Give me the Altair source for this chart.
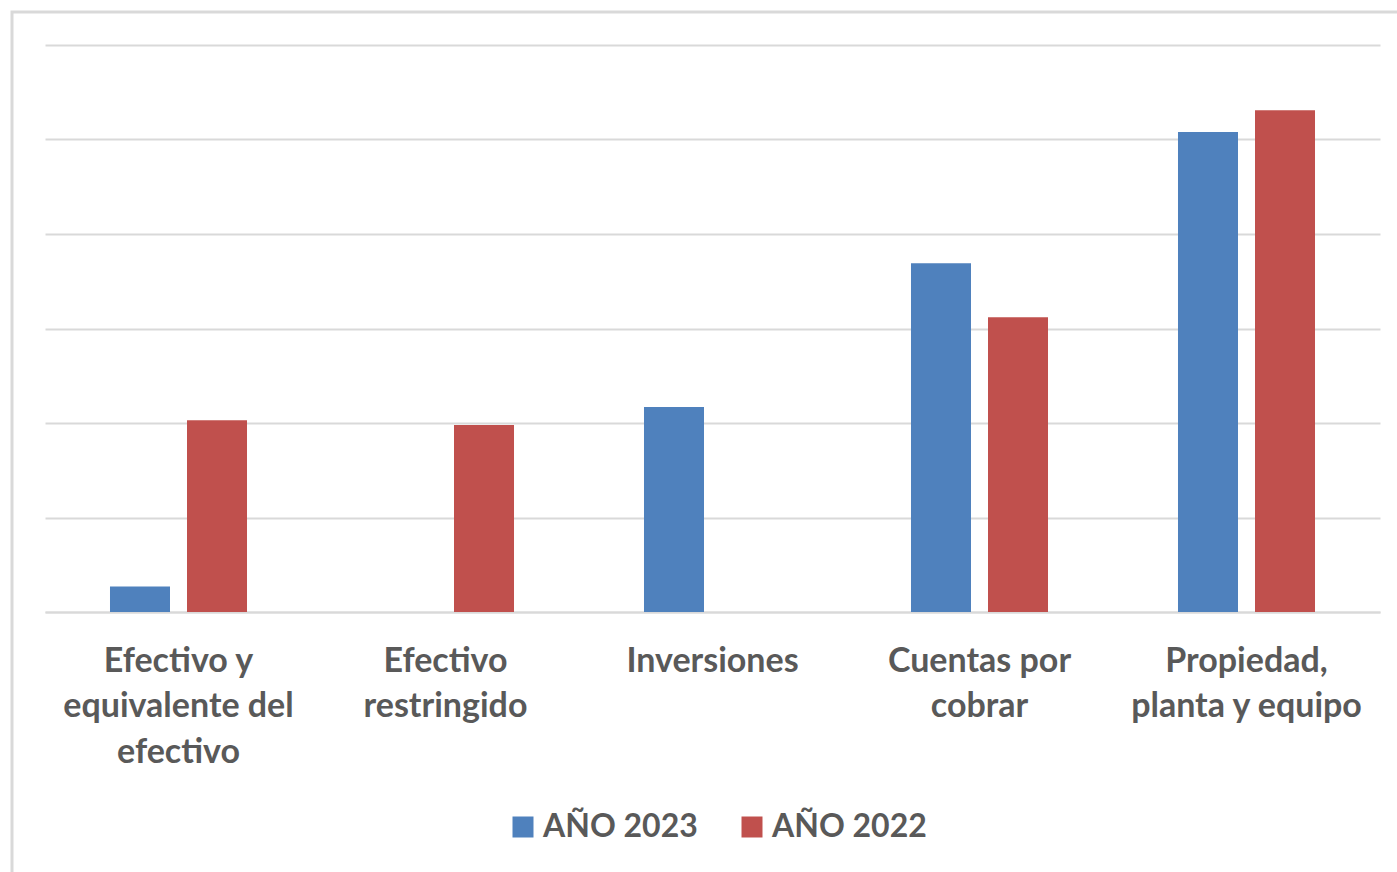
import altair as alt
import pandas as pd

categories = [
    "Efectivo y equivalente del efectivo",
    "Efectivo restringido",
    "Inversiones",
    "Cuentas por cobrar",
    "Propiedad, planta y equipo",
]
label_lines = [
    ["Efectivo y", "equivalente del", "efectivo"],
    ["Efectivo", "restringido"],
    ["Inversiones"],
    ["Cuentas por", "cobrar"],
    ["Propiedad,", "planta y equipo"],
]
series = ["AÑO 2023", "AÑO 2022"]
values_2023 = [0.27, 0.0, 2.17, 3.69, 5.08]
values_2022 = [2.03, 1.98, 0.0, 3.12, 5.31]
colors = ["#4F81BD", "#C0504D"]
grid_values = [0, 1, 2, 3, 4, 5, 6]

rows = []
for c, v in zip(categories, values_2023):
    rows.append({"categoria": c, "serie": series[0], "valor": v})
for c, v in zip(categories, values_2022):
    rows.append({"categoria": c, "serie": series[1], "valor": v})
df = pd.DataFrame(rows)

expr = "datum.label"
for c, lines in reversed(list(zip(categories, label_lines))):
    arr = "[" + ",".join("'" + l + "'" for l in lines) + "]"
    expr = f"datum.label == '{c}' ? {arr} : ({expr})"

FONT = "Lato"
GRAY = "#595959"
GRID = "#d9d9d9"

bars = alt.Chart(df).mark_bar().encode(
    x=alt.X(
        "categoria:N",
        sort=categories,
        title=None,
        scale=alt.Scale(paddingInner=0, paddingOuter=0),
        axis=alt.Axis(
            labelExpr=expr,
            labelAngle=0,
            labelFont=FONT,
            labelFontSize=34,
            labelFontWeight="bold",
            labelColor=GRAY,
            labelLineHeight=45.5,
            labelPadding=32,
            labelBaseline="top",
            labelLimit=0,
            ticks=False,
            domainColor=GRID,
            domainWidth=2,
            grid=False,
        ),
    ),
    xOffset=alt.XOffset(
        "serie:N",
        sort=series,
        scale=alt.Scale(paddingInner=0.2208, paddingOuter=0.844),
    ),
    y=alt.Y(
        "valor:Q",
        title=None,
        scale=alt.Scale(domain=[0, 6], nice=False),
        axis=alt.Axis(
            values=grid_values,
            labels=False,
            ticks=False,
            domain=False,
            grid=True,
            gridColor=GRID,
            gridWidth=2,
        ),
    ),
    color=alt.Color(
        "serie:N",
        sort=series,
        scale=alt.Scale(domain=series, range=colors),
        legend=alt.Legend(
            title=None,
            orient="none",
            direction="horizontal",
            legendX=462,
            legendY=766,
            symbolType="square",
            symbolSize=441,
            symbolStrokeWidth=0,
            symbolOpacity=1,
            labelFont=FONT,
            labelFontSize=32,
            labelFontWeight="bold",
            labelColor=GRAY,
            labelOffset=4,
            columnPadding=38,
            padding=0,
        ),
    ),
)

border = alt.Chart(alt.Data(values=[{}])).mark_rect(
    filled=False, stroke=GRID, strokeWidth=3
).encode(
    x=alt.value(-33), y=alt.value(-33), x2=alt.value(1400), y2=alt.value(900)
)

chart = alt.layer(border, bars).properties(
    width=1335,
    height=567,
    autosize=alt.AutoSizeParams(type="none"),
    padding={"left": 45, "top": 45, "right": 17, "bottom": 260},
    background="white",
).configure_view(stroke=None)

chart.save("out.html", embed_options={"renderer": "svg", "actions": False})
